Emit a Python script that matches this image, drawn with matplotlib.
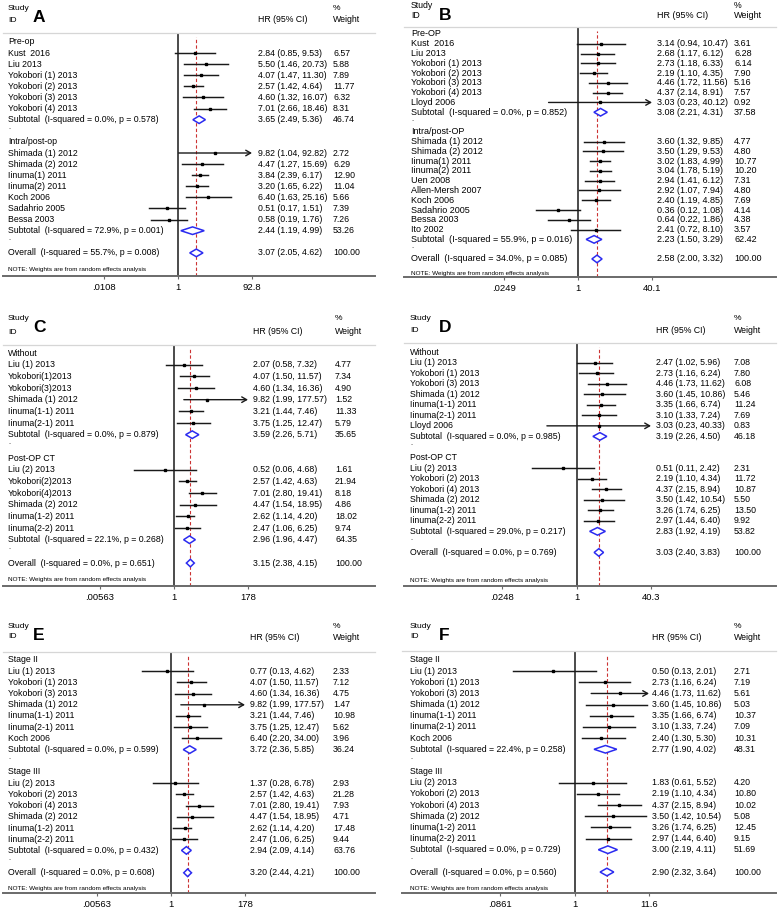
import numpy as np
import matplotlib
matplotlib.use("Agg")
import matplotlib.pyplot as plt
from matplotlib.ticker import NullLocator

plt.rcParams['font.family'] = ['Liberation Sans', 'DejaVu Sans']

W, H = 778, 913

# ---------------- Panel A ----------------
a_groups = ["Pre-op", "Intra/post-op"]
a_studies = [["Kust  2016", "Liu 2013", "Yokobori (1) 2013", "Yokobori (2) 2013",
              "Yokobori (3) 2013", "Yokobori (4) 2013"],
             ["Shimada (1) 2012", "Shimada (2) 2012", "Iinuma(1) 2011", "Iinuma(2) 2011",
              "Koch 2006", "Sadahrio 2005", "Bessa 2003"]]
a_hr = [[2.84, 5.50, 4.07, 2.57, 4.60, 7.01], [9.82, 4.47, 3.84, 3.20, 6.40, 0.51, 0.58]]
a_lo = [[0.85, 1.46, 1.47, 1.42, 1.32, 2.66], [1.04, 1.27, 2.39, 1.65, 1.63, 0.17, 0.19]]
a_hi = [[9.53, 20.73, 11.30, 4.64, 16.07, 18.46], [92.82, 15.69, 6.17, 6.22, 25.16, 1.51, 1.76]]
a_wt = [[6.57, 5.88, 7.89, 11.77, 6.32, 8.31], [2.72, 6.29, 12.90, 11.04, 5.66, 7.39, 7.26]]
a_sub = [[3.65, 2.49, 5.36, 46.74], [2.44, 1.19, 4.99, 53.26]]
a_sub_het = [["0.0", "0.578"], ["72.9", "0.001"]]
a_overall = [3.07, 2.05, 4.62, 100.00]
a_overall_het = ["55.7", "0.008"]
a_ticks = [0.0108, 1, 92.8]
a_ticklabels = [".0108", "1", "92.8"]

# ---------------- Panel B ----------------
b_groups = ["Pre-OP", "Intra/post-OP"]
b_studies = [["Kust  2016", "Liu 2013", "Yokobori (1) 2013", "Yokobori (2) 2013",
              "Yokobori (3) 2013", "Yokobori (4) 2013", "Lloyd 2006"],
             ["Shimada (1) 2012", "Shimada (2) 2012", "Iinuma(1) 2011", "Iinuma(2) 2011",
              "Uen 2008", "Allen-Mersh 2007", "Koch 2006", "Sadahrio 2005", "Bessa 2003",
              "Ito 2002"]]
b_hr = [[3.14, 2.68, 2.73, 2.19, 4.46, 4.37, 3.03],
        [3.60, 3.50, 3.02, 3.04, 2.94, 2.92, 2.40, 0.36, 0.64, 2.41]]
b_lo = [[0.94, 1.17, 1.18, 1.10, 1.72, 2.14, 0.23],
        [1.32, 1.29, 1.83, 1.78, 1.41, 1.07, 1.19, 0.12, 0.22, 0.72]]
b_hi = [[10.47, 6.12, 6.33, 4.35, 11.56, 8.91, 40.12],
        [9.85, 9.53, 4.99, 5.19, 6.12, 7.94, 4.85, 1.08, 1.86, 8.10]]
b_wt = [[3.61, 6.28, 6.14, 7.90, 5.16, 7.57, 0.92],
        [4.77, 4.80, 10.77, 10.20, 7.31, 4.80, 7.69, 4.14, 4.38, 3.57]]
b_sub = [[3.08, 2.21, 4.31, 37.58], [2.23, 1.50, 3.29, 62.42]]
b_sub_het = [["0.0", "0.852"], ["55.9", "0.016"]]
b_overall = [2.58, 2.00, 3.32, 100.00]
b_overall_het = ["34.0", "0.085"]
b_ticks = [0.0249, 1, 40.1]
b_ticklabels = [".0249", "1", "40.1"]

# ---------------- Panel C ----------------
c_groups = ["Without", "Post-OP CT"]
c_studies = [["Liu (1) 2013", "Yokobori(1)2013", "Yokobori(3)2013", "Shimada (1) 2012",
              "Iinuma(1-1) 2011", "Iinuma(2-1) 2011"],
             ["Liu (2) 2013", "Yokobori(2)2013", "Yokobori(4)2013", "Shimada (2) 2012",
              "Iinuma(1-2) 2011", "Iinuma(2-2) 2011"]]
c_hr = [[2.07, 4.07, 4.60, 9.82, 3.21, 3.75], [0.52, 2.57, 7.01, 4.47, 2.62, 2.47]]
c_lo = [[0.58, 1.50, 1.34, 1.99, 1.44, 1.25], [0.06, 1.42, 2.80, 1.54, 1.14, 1.06]]
c_hi = [[7.32, 11.57, 16.36, 177.57, 7.46, 12.47], [4.68, 4.63, 19.41, 18.95, 4.20, 6.25]]
c_wt = [[4.77, 7.34, 4.90, 1.52, 11.33, 5.79], [1.61, 21.94, 8.18, 4.86, 18.02, 9.74]]
c_sub = [[3.59, 2.26, 5.71, 35.65], [2.96, 1.96, 4.47, 64.35]]
c_sub_het = [["0.0", "0.879"], ["22.1", "0.268"]]
c_overall = [3.15, 2.38, 4.15, 100.00]
c_overall_het = ["0.0", "0.651"]
c_ticks = [0.00563, 1, 178]
c_ticklabels = [".00563", "1", "178"]

# ---------------- Panel D ----------------
d_groups = ["Without", "Post-OP CT"]
d_studies = [["Liu (1) 2013", "Yokobori (1) 2013", "Yokobori (3) 2013", "Shimada (1) 2012",
              "Iinuma(1-1) 2011", "Iinuma(2-1) 2011", "Lloyd 2006"],
             ["Liu (2) 2013", "Yokobori (2) 2013", "Yokobori (4) 2013", "Shimada (2) 2012",
              "Iinuma(1-2) 2011", "Iinuma(2-2) 2011"]]
d_hr = [[2.47, 2.73, 4.46, 3.60, 3.35, 3.10, 3.03], [0.51, 2.19, 4.37, 3.50, 3.26, 2.97]]
d_lo = [[1.02, 1.16, 1.73, 1.45, 1.66, 1.33, 0.23], [0.11, 1.10, 2.15, 1.42, 1.74, 1.44]]
d_hi = [[5.96, 6.24, 11.62, 10.86, 6.74, 7.24, 40.33], [2.42, 4.34, 8.94, 10.54, 6.25, 6.40]]
d_wt = [[7.08, 7.80, 6.08, 5.46, 11.24, 7.69, 0.83], [2.31, 11.72, 10.87, 5.50, 13.50, 9.92]]
d_sub = [[3.19, 2.26, 4.50, 46.18], [2.83, 1.92, 4.19, 53.82]]
d_sub_het = [["0.0", "0.985"], ["29.0", "0.217"]]
d_overall = [3.03, 2.40, 3.83, 100.00]
d_overall_het = ["0.0", "0.769"]
d_ticks = [0.0248, 1, 40.3]
d_ticklabels = [".0248", "1", "40.3"]

# ---------------- Panel E ----------------
e_groups = ["Stage II", "Stage III"]
e_studies = [["Liu (1) 2013", "Yokobori (1) 2013", "Yokobori (3) 2013", "Shimada (1) 2012",
              "Iinuma(1-1) 2011", "Iinuma(2-1) 2011", "Koch 2006"],
             ["Liu (2) 2013", "Yokobori (2) 2013", "Yokobori (4) 2013", "Shimada (2) 2012",
              "Iinuma(1-2) 2011", "Iinuma(2-2) 2011"]]
e_hr = [[0.77, 4.07, 4.60, 9.82, 3.21, 3.75, 6.40], [1.37, 2.57, 7.01, 4.47, 2.62, 2.47]]
e_lo = [[0.13, 1.50, 1.34, 1.99, 1.44, 1.25, 2.20], [0.28, 1.42, 2.80, 1.54, 1.14, 1.06]]
e_hi = [[4.62, 11.57, 16.36, 177.57, 7.46, 12.47, 34.00], [6.78, 4.63, 19.41, 18.95, 4.20, 6.25]]
e_wt = [[2.33, 7.12, 4.75, 1.47, 10.98, 5.62, 3.96], [2.93, 21.28, 7.93, 4.71, 17.48, 9.44]]
e_sub = [[3.72, 2.36, 5.85, 36.24], [2.94, 2.09, 4.14, 63.76]]
e_sub_het = [["0.0", "0.599"], ["0.0", "0.432"]]
e_overall = [3.20, 2.44, 4.21, 100.00]
e_overall_het = ["0.0", "0.608"]
e_ticks = [0.00563, 1, 178]
e_ticklabels = [".00563", "1", "178"]

# ---------------- Panel F ----------------
f_groups = ["Stage II", "Stage III"]
f_studies = [["Liu (1) 2013", "Yokobori (1) 2013", "Yokobori (3) 2013", "Shimada (1) 2012",
              "Iinuma(1-1) 2011", "Iinuma(2-1) 2011", "Koch 2006"],
             ["Liu (2) 2013", "Yokobori (2) 2013", "Yokobori (4) 2013", "Shimada (2) 2012",
              "Iinuma(1-2) 2011", "Iinuma(2-2) 2011"]]
f_hr = [[0.50, 2.73, 4.46, 3.60, 3.35, 3.10, 2.40], [1.83, 2.19, 4.37, 3.50, 3.26, 2.97]]
f_lo = [[0.13, 1.16, 1.73, 1.45, 1.66, 1.33, 1.30], [0.61, 1.10, 2.15, 1.42, 1.74, 1.44]]
f_hi = [[2.01, 6.24, 11.62, 10.86, 6.74, 7.24, 5.30], [5.52, 4.34, 8.94, 10.54, 6.25, 6.40]]
f_wt = [[2.71, 7.19, 5.61, 5.03, 10.37, 7.09, 10.31], [4.20, 10.80, 10.02, 5.08, 12.45, 9.15]]
f_sub = [[2.77, 1.90, 4.02, 48.31], [3.00, 2.19, 4.11, 51.69]]
f_sub_het = [["22.4", "0.258"], ["0.0", "0.729"]]
f_overall = [2.90, 2.32, 3.64, 100.00]
f_overall_het = ["0.0", "0.560"]
f_ticks = [0.0861, 1, 11.6]
f_ticklabels = [".0861", "1", "11.6"]

NOTE = "NOTE: Weights are from random effects analysis"

# pixel layout of each panel
layouts = {
    "A": dict(L=3, R=375, sep=33, axis=276, row0=42, sp=11.1, tpx=(104, 252),
              lab=8, hrx=258, wtx=333, study=8, idy=20, letx=33, lety=17, note=270, fs=6.3),
    "B": dict(L=404, R=776, sep=27, axis=277, row0=34, sp=9.78, tpx=(504, 652),
              lab=411, hrx=657, wtx=734, study=6, idy=16, letx=439, lety=16, note=273, fs=6.5),
    "C": dict(L=3, R=375, sep=345, axis=586, row0=353, sp=11.67, tpx=(100, 248),
              lab=8, hrx=253, wtx=335, study=318, idy=332, letx=33, lety=327, note=579, fs=6.3),
    "D": dict(L=404, R=776, sep=343, axis=586, row0=352, sp=10.55, tpx=(502, 651),
              lab=410, hrx=656, wtx=734, study=318, idy=330, letx=439, lety=328, note=580, fs=6.3),
    "E": dict(L=3, R=375, sep=652, axis=893, row0=660, sp=11.2, tpx=(97, 245),
              lab=8, hrx=250, wtx=333, study=626, idy=637, letx=33, lety=635, note=888, fs=6.3),
    "F": dict(L=402, R=776, sep=651, axis=893, row0=660, sp=11.16, tpx=(500, 649),
              lab=410, hrx=652, wtx=734, study=626, idy=637, letx=439, lety=635, note=888, fs=6.3),
}


def ci_text(h, l, u):
    return f"{h:.2f} ({l:.2f}, {u:.2f})"


def draw_panel(fig, letter, groups, studies, hr, lo, hi, wt, sub, sub_het,
               overall, overall_het, ticks, ticklabels):
    lay = layouts[letter]
    L, R = lay["L"], lay["R"]
    sp, row0 = lay["sp"], lay["row0"]
    fs = lay["fs"]
    ax = fig.add_axes([L / W, 1 - lay["axis"] / H, (R - L) / W, (lay["axis"] - lay["sep"]) / H])
    ax.set_xscale("log")
    ln_lo, ln_hi = np.log(ticks[0]), np.log(ticks[-1])
    k = (ln_hi - ln_lo) / (lay["tpx"][1] - lay["tpx"][0])
    ax.set_xlim(np.exp(ln_lo + (L - lay["tpx"][0]) * k), np.exp(ln_lo + (R - lay["tpx"][0]) * k))
    ax.set_ylim((lay["axis"] - row0) / sp, (lay["sep"] - row0) / sp)

    for s in ["left", "right"]:
        ax.spines[s].set_visible(False)
    ax.spines["bottom"].set_color("#6a6a6a")
    ax.spines["bottom"].set_linewidth(1.4)
    ax.spines["top"].set_color("#d6d6d6")
    ax.spines["top"].set_linewidth(0.9)
    ax.set_yticks([])
    ax.set_xticks(ticks)
    ax.set_xticklabels(ticklabels, fontsize=6.8)
    ax.xaxis.set_minor_locator(NullLocator())
    ax.tick_params(axis="x", length=2.5, width=0.8, color="#6a6a6a", pad=2.5)
    ax.patch.set_visible(False)

    ax.axvline(1, color="#1a1a1a", lw=1.1, zorder=1)
    ax.axvline(overall[0], ymax=0.985, color="#cc3333", lw=0.8, ls=(0, (3, 2)), zorder=1)

    tr = ax.get_yaxis_transform()

    def fx(px):
        return (px - L) / (R - L)

    dh = 3.8 / sp
    row = 0
    for g in range(len(groups)):
        ax.text(fx(lay["lab"]), row, groups[g], transform=tr, fontsize=fs, va="center")
        row += 1
        for i in range(len(studies[g])):
            h, l, u = hr[g][i], lo[g][i], hi[g][i]
            ax.text(fx(lay["lab"]), row, studies[g][i], transform=tr, fontsize=fs, va="center")
            ax.text(fx(lay["hrx"]), row, ci_text(h, l, u), transform=tr, fontsize=fs, va="center")
            ax.text(fx(lay["wtx"]), row, f"{wt[g][i]:.2f}", transform=tr, fontsize=fs, va="center")
            if u >= ticks[-1] * 0.99:
                ax.annotate("", xy=(ticks[-1], row), xytext=(l, row),
                            arrowprops=dict(arrowstyle="->,head_length=0.35,head_width=0.2",
                                            lw=1.0, color="#1a1a1a", shrinkA=0, shrinkB=0))
            else:
                ax.plot([l, u], [row, row], color="#1a1a1a", lw=1.05)
            ax.plot([h], [row], marker="s", ms=1.7, color="black", zorder=3)
            row += 1
        sh, sl, su, sw = sub[g]
        ax.text(fx(lay["lab"]), row,
                f"Subtotal  (I-squared = {sub_het[g][0]}%, p = {sub_het[g][1]})",
                transform=tr, fontsize=fs, va="center")
        ax.text(fx(lay["hrx"]), row, ci_text(sh, sl, su), transform=tr, fontsize=fs, va="center")
        ax.text(fx(lay["wtx"]), row, f"{sw:.2f}", transform=tr, fontsize=fs, va="center")
        ax.fill([sl, sh, su, sh], [row, row - dh, row, row + dh], facecolor="white",
                edgecolor="#2b2bf0", lw=1.1, zorder=4)
        row += 1
        ax.text(fx(lay["lab"]), row - 0.3, ".", transform=tr, fontsize=fs - 1, va="center")
        row += 1

    oh, ol, ou, ow = overall
    ax.text(fx(lay["lab"]), row,
            f"Overall  (I-squared = {overall_het[0]}%, p = {overall_het[1]})",
            transform=tr, fontsize=fs, va="center")
    ax.text(fx(lay["hrx"]), row, ci_text(oh, ol, ou), transform=tr, fontsize=fs, va="center")
    ax.text(fx(lay["wtx"]), row, f"{ow:.2f}", transform=tr, fontsize=fs, va="center")
    ax.fill([ol, oh, ou, oh], [row, row - dh, row, row + dh], facecolor="white",
            edgecolor="#2b2bf0", lw=1.1, zorder=4)
    ax.text(fx(lay["lab"]), (lay["note"] - row0) / sp, NOTE, transform=tr,
            fontsize=4.6, va="center")

    # header
    fig.text(lay["lab"] / W, 1 - lay["study"] / H, "Study", fontsize=fs - 0.2, va="center")
    fig.text(lay["lab"] / W, 1 - lay["idy"] / H, "ID", fontsize=fs - 0.2, va="center")
    fig.text(lay["letx"] / W, 1 - lay["lety"] / H, letter, fontsize=12.5, fontweight="bold",
             va="center")
    fig.text(lay["hrx"] / W, 1 - lay["idy"] / H, "HR (95% CI)", fontsize=fs, va="center")
    fig.text(lay["wtx"] / W, 1 - lay["study"] / H, "%", fontsize=fs - 0.2, va="center")
    fig.text(lay["wtx"] / W, 1 - lay["idy"] / H, "Weight", fontsize=fs, va="center")
    return ax


fig = plt.figure(figsize=(W / 100, H / 100), dpi=100)
fig.patch.set_facecolor("white")

draw_panel(fig, "A", a_groups, a_studies, a_hr, a_lo, a_hi, a_wt, a_sub, a_sub_het,
           a_overall, a_overall_het, a_ticks, a_ticklabels)
draw_panel(fig, "B", b_groups, b_studies, b_hr, b_lo, b_hi, b_wt, b_sub, b_sub_het,
           b_overall, b_overall_het, b_ticks, b_ticklabels)
draw_panel(fig, "C", c_groups, c_studies, c_hr, c_lo, c_hi, c_wt, c_sub, c_sub_het,
           c_overall, c_overall_het, c_ticks, c_ticklabels)
draw_panel(fig, "D", d_groups, d_studies, d_hr, d_lo, d_hi, d_wt, d_sub, d_sub_het,
           d_overall, d_overall_het, d_ticks, d_ticklabels)
draw_panel(fig, "E", e_groups, e_studies, e_hr, e_lo, e_hi, e_wt, e_sub, e_sub_het,
           e_overall, e_overall_het, e_ticks, e_ticklabels)
draw_panel(fig, "F", f_groups, f_studies, f_hr, f_lo, f_hi, f_wt, f_sub, f_sub_het,
           f_overall, f_overall_het, f_ticks, f_ticklabels)

fig.savefig("out.png", dpi=100)
